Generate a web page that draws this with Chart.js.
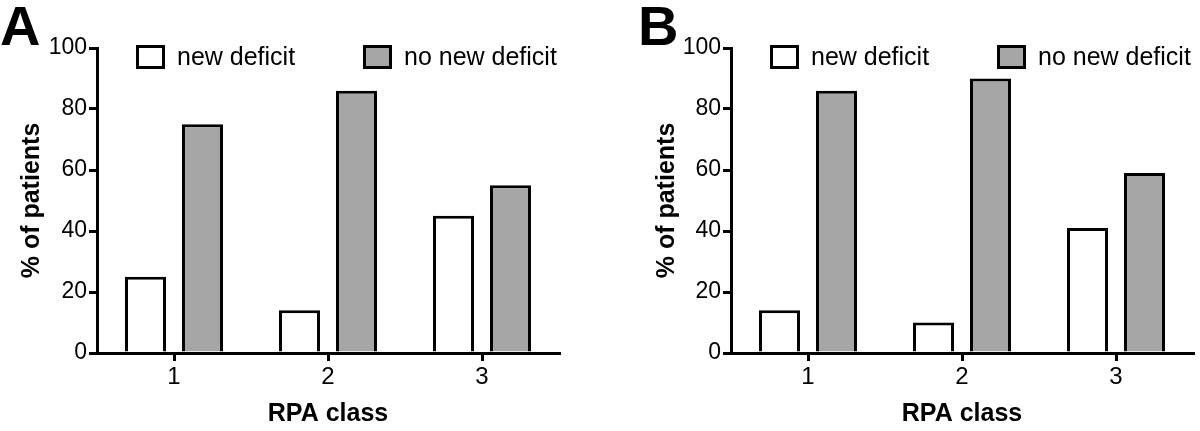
<!DOCTYPE html>
<html>
<head>
<meta charset="utf-8">
<script src="https://cdn.jsdelivr.net/npm/chart.js@4/dist/chart.umd.min.js"></script>
<style>
  html, body { margin: 0; padding: 0; background: #fff; }
  #wrap { display: flex; width: 1200px; height: 431px; }
  canvas { display: block; }
</style>
</head>
<body>
<div id="wrap">
  <canvas id="chart-a" width="600" height="431"></canvas>
  <canvas id="chart-b" width="600" height="431"></canvas>
</div>
<script>
// データ
const categories   = ["1", "2", "3"];
const seriesLabels = ["new deficit", "no new deficit"];
const newDeficitA   = [25, 14, 45];
const noNewDeficitA = [75, 86, 55];
const newDeficitB   = [14, 10, 41];
const noNewDeficitB = [86, 90, 59];

// 見た目
const FONT = "'Liberation Sans', Arial, sans-serif";
const FILLS = ["#ffffff", "#a6a6a6"];
const LEGEND_X = [39, 266];

// 凡例（チャートエリア内の上部）
const legendPlugin = {
  id: "boxLegend",
  afterDraw(chart) {
    const ctx = chart.ctx;
    const left = chart.chartArea.left;
    ctx.save();
    chart.data.datasets.forEach((ds, i) => {
      const x = left + LEGEND_X[i];
      ctx.fillStyle = ds.backgroundColor;
      ctx.fillRect(x, 45, 29, 24);
      ctx.lineWidth = 3;
      ctx.strokeStyle = "#000";
      ctx.strokeRect(x + 1.5, 46.5, 26, 21);
      ctx.fillStyle = "#000";
      ctx.font = `25px ${FONT}`;
      ctx.textBaseline = "middle";
      ctx.fillText(ds.label, x + 41, 58);
    });
    ctx.restore();
  }
};

// パネル文字（A / B）
const letterPlugin = {
  id: "panelLetter",
  afterDraw(chart, args, opts) {
    const ctx = chart.ctx;
    ctx.save();
    ctx.fillStyle = "#000";
    ctx.font = `bold 56px ${FONT}`;
    ctx.textBaseline = "alphabetic";
    ctx.fillText(opts.text, opts.x, opts.y);
    ctx.restore();
  }
};

function makeChart(id, letter, newData, noNewData, axisW, titlePad, padRight, letterX) {
  const axisLine = { display: true, width: 3, color: "#000" };
  const tickGrid = { drawOnChartArea: false, drawTicks: true, tickLength: 8, lineWidth: 3, color: "#000" };

  return new Chart(document.getElementById(id), {
    type: "bar",
    data: {
      labels: categories,
      datasets: [
        { label: seriesLabels[0], data: newData,   backgroundColor: FILLS[0], borderColor: "#000", borderWidth: 3 },
        { label: seriesLabels[1], data: noNewData, backgroundColor: FILLS[1], borderColor: "#000", borderWidth: 3 }
      ]
    },
    options: {
      responsive: false,
      animation: false,
      categoryPercentage: 0.74,
      barPercentage: 0.72,
      layout: { padding: { top: 48, right: padRight, left: 0, bottom: 0 } },
      plugins: {
        legend: { display: false },
        tooltip: { enabled: false },
        panelLetter: { text: letter, x: letterX, y: 45 }
      },
      scales: {
        x: {
          grid: Object.assign({ offset: false }, tickGrid),
          border: axisLine,
          ticks: { color: "#000", font: { family: FONT, size: 24 }, padding: 2 },
          title: { display: true, text: "RPA class", color: "#000",
                   font: { family: FONT, size: 25, weight: "bold" }, padding: { bottom: 2 } },
          afterFit: s => { s.height = 78; }
        },
        y: {
          min: 0,
          max: 100,
          grid: tickGrid,
          border: axisLine,
          ticks: { stepSize: 20, color: "#000", font: { family: FONT, size: 23 }, padding: 2 },
          title: { display: true, text: "% of patients", color: "#000",
                   font: { family: FONT, size: 25, weight: "bold" }, padding: { top: titlePad } },
          afterFit: s => { s.width = axisW; }
        }
      }
    },
    plugins: [legendPlugin, letterPlugin]
  });
}

function init() {
  makeChart("chart-a", "A", newDeficitA, noNewDeficitA, 97, 17, 41, 0);
  makeChart("chart-b", "B", newDeficitB, noNewDeficitB, 131, 52, 7, 38);
}

init();
</script>
</body>
</html>
